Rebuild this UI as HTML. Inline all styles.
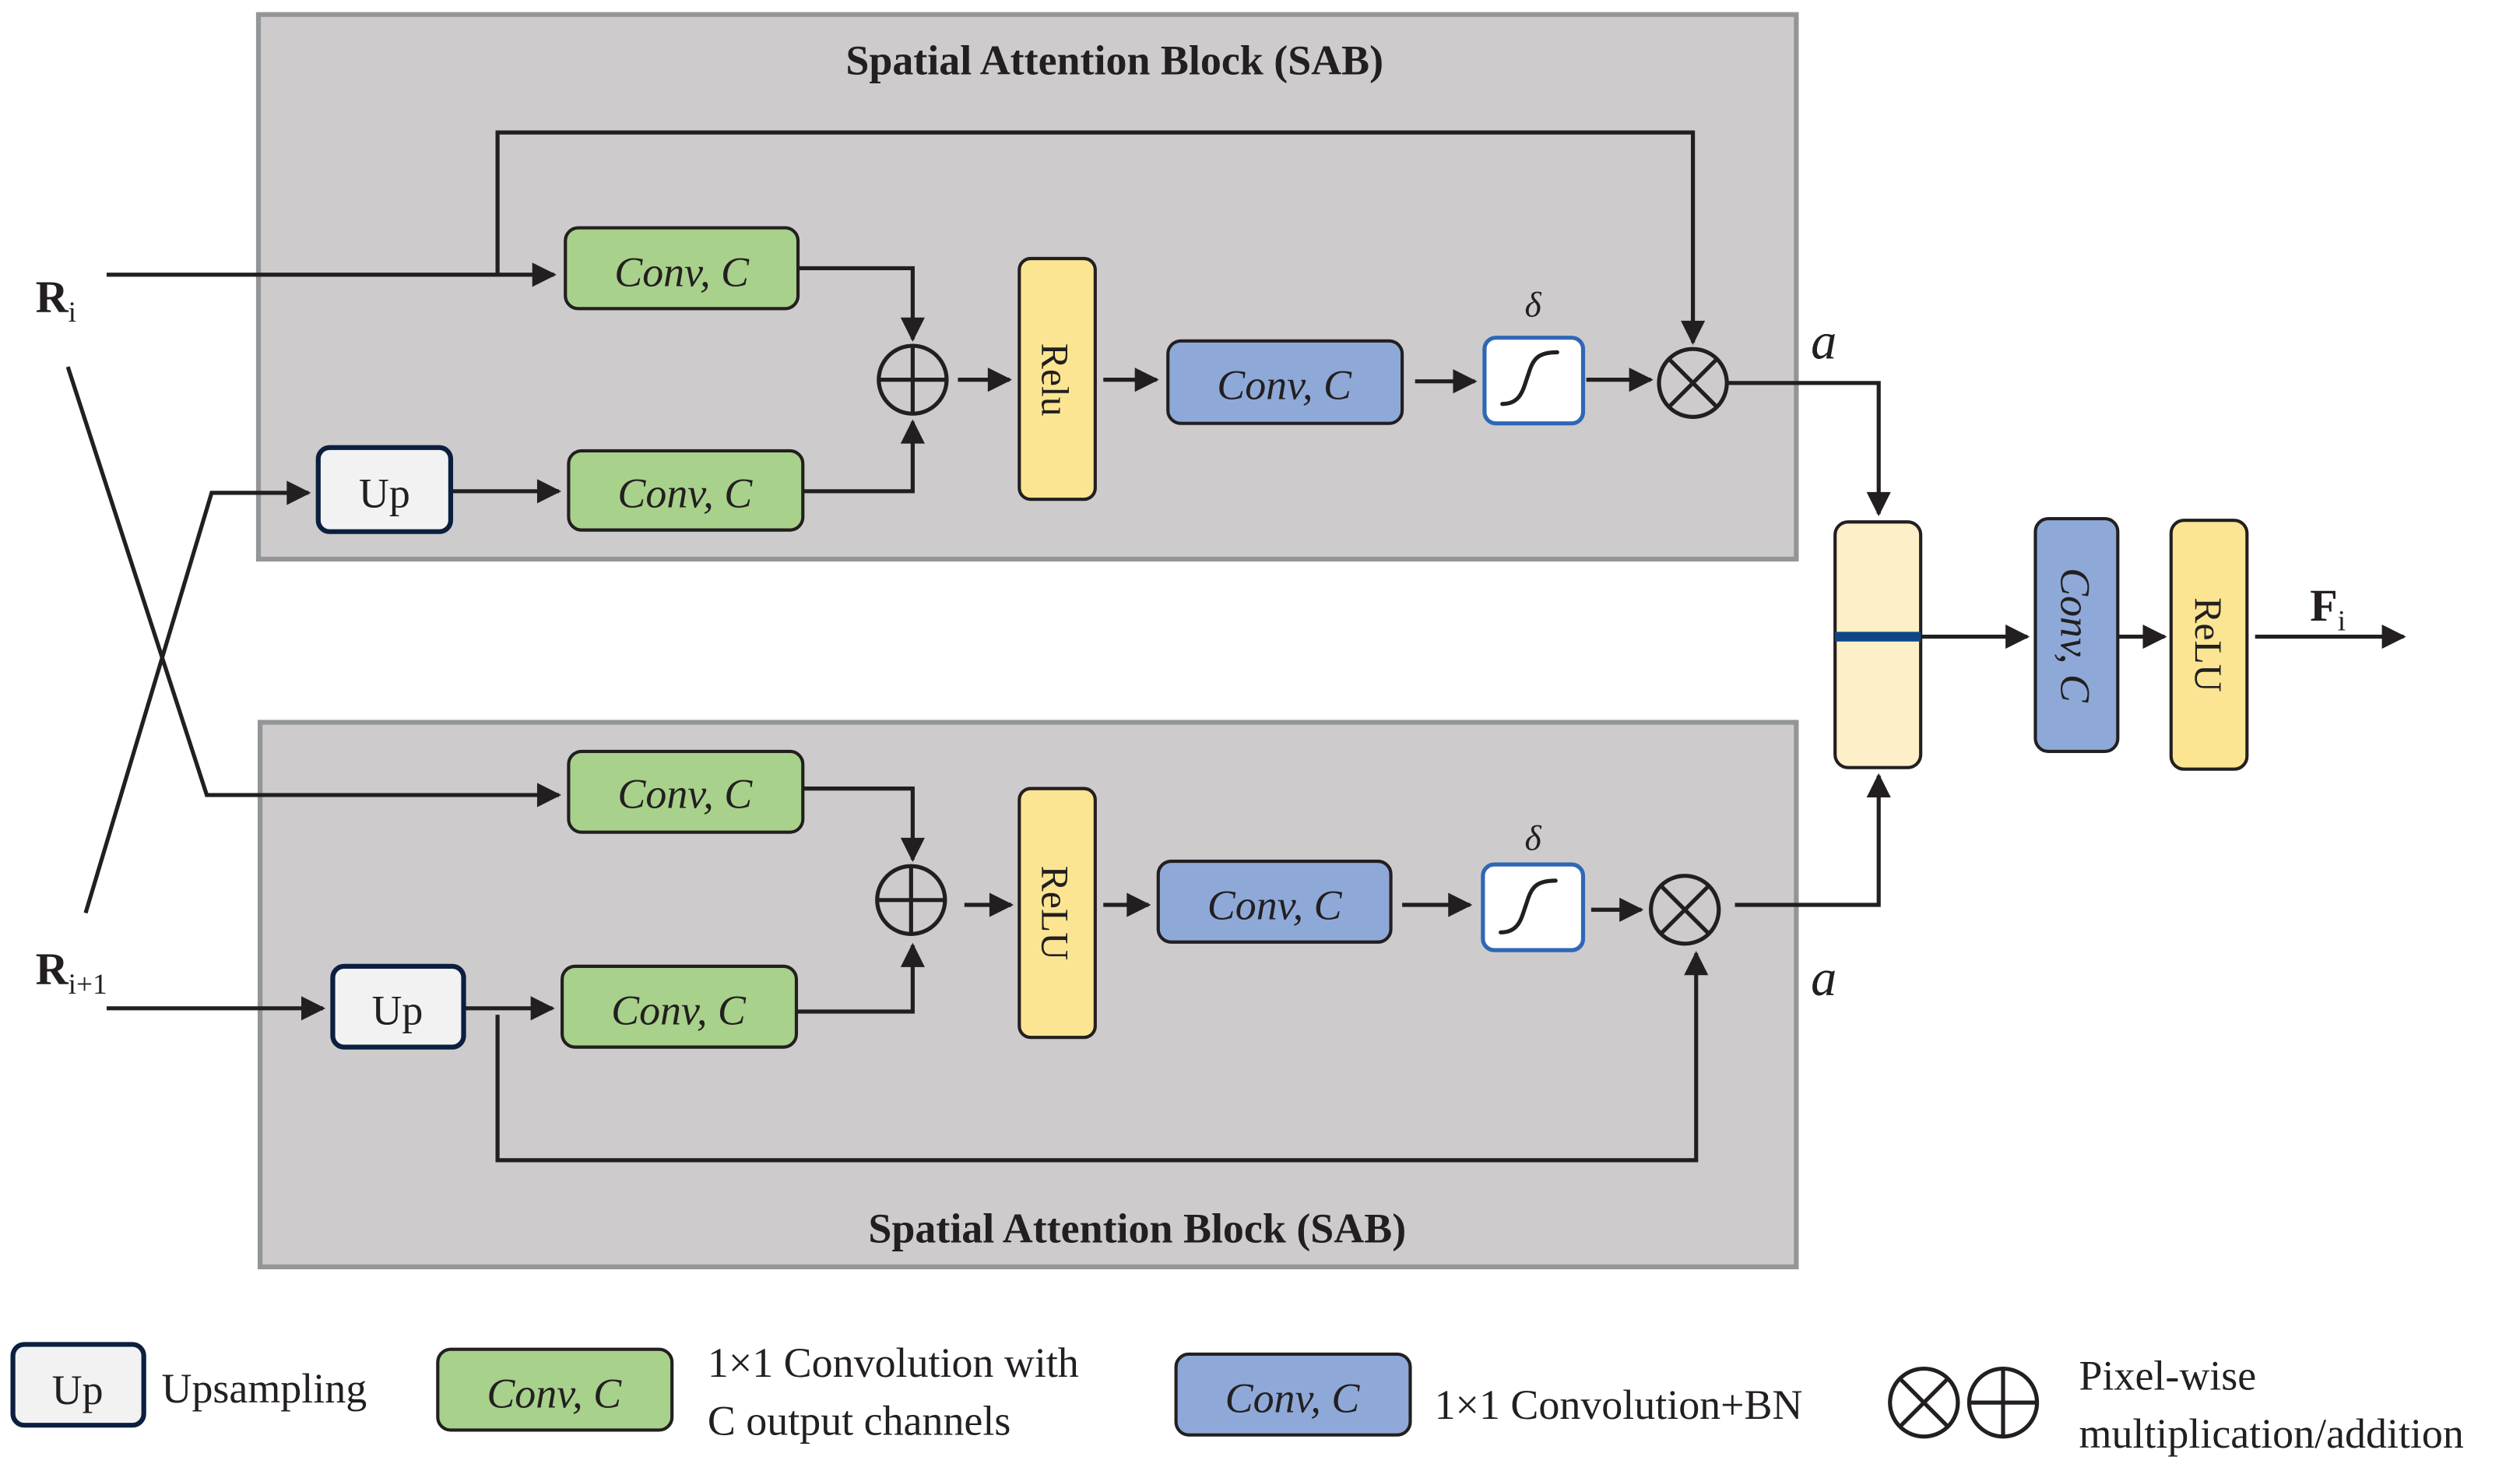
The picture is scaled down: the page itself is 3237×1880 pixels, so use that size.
<!DOCTYPE html>
<html><head><meta charset="utf-8"><style>html,body{margin:0;padding:0;background:#fff}svg{display:block}</style></head>
<body>
<svg width="3237" height="1880" viewBox="0 0 1560 906" preserveAspectRatio="none" xmlns="http://www.w3.org/2000/svg" font-family="'Liberation Serif', serif">
<defs>
<marker id="ah" viewBox="0 0 10 10" refX="9" refY="5" markerWidth="6.5" markerHeight="6" orient="auto" markerUnits="strokeWidth"><path d="M0,0 L10,5 L0,10 z" fill="#231f20"/></marker>
</defs>
<g stroke-linejoin="miter">
<rect x="160" y="9" width="952" height="337" fill="#cdcbcc" stroke="#939598" stroke-width="3"/>
<rect x="161" y="447" width="951" height="337" fill="#cdcbcc" stroke="#939598" stroke-width="3"/>
</g>
<text x="690" y="46" font-size="26" font-weight="bold" text-anchor="middle" fill="#231f20">Spatial Attention Block (SAB)</text>
<text x="704" y="769" font-size="26" font-weight="bold" text-anchor="middle" fill="#231f20">Spatial Attention Block (SAB)</text>

<g fill="none" stroke="#231f20" stroke-width="2.5">
<path d="M66,170 H343" marker-end="url(#ah)"/>
<path d="M308,170 V82 H1048 V212" marker-end="url(#ah)"/>
<path d="M494,166 H565 V210" marker-end="url(#ah)"/>
<path d="M497,304 H565 V261" marker-end="url(#ah)"/>
<path d="M279,304 H346" marker-end="url(#ah)"/>
<path d="M593,235 H625" marker-end="url(#ah)"/>
<path d="M683,235 H716" marker-end="url(#ah)"/>
<path d="M876,236 H913" marker-end="url(#ah)"/>
<path d="M982,235 H1022" marker-end="url(#ah)"/>
<path d="M1070,237 H1163 V318" marker-end="url(#ah)"/>
<path d="M42,227 L128,492 H346" marker-end="url(#ah)"/>
<path d="M53,565 L131,305 H191" marker-end="url(#ah)"/>
<path d="M66,624 H200" marker-end="url(#ah)"/>
<path d="M287,624 H342" marker-end="url(#ah)"/>
<path d="M308,628 V718 H1050 V590" marker-end="url(#ah)"/>
<path d="M497,488 H565 V532" marker-end="url(#ah)"/>
<path d="M493,626 H565 V585" marker-end="url(#ah)"/>
<path d="M597,560 H626" marker-end="url(#ah)"/>
<path d="M683,560 H711" marker-end="url(#ah)"/>
<path d="M868,560 H910" marker-end="url(#ah)"/>
<path d="M985,563 H1016" marker-end="url(#ah)"/>
<path d="M1074,560 H1163 V480" marker-end="url(#ah)"/>
<path d="M1189,394 H1255" marker-end="url(#ah)"/>
<path d="M1311,394 H1340" marker-end="url(#ah)"/>
<path d="M1396,394 H1488" marker-end="url(#ah)"/>
</g>

<g stroke="#231f20" stroke-width="2">
<rect x="350" y="141" width="144" height="50" rx="8" fill="#a8d18b"/>
<rect x="352" y="279" width="145" height="49" rx="8" fill="#a8d18b"/>
<rect x="352" y="465" width="145" height="50" rx="8" fill="#a8d18b"/>
<rect x="348" y="598" width="145" height="50" rx="8" fill="#a8d18b"/>
<rect x="631" y="160" width="47" height="149" rx="7" fill="#fbe592"/>
<rect x="631" y="488" width="47" height="154" rx="7" fill="#fbe592"/>
<rect x="723" y="211" width="145" height="51" rx="8" fill="#8ea9d8"/>
<rect x="717" y="533" width="144" height="50" rx="8" fill="#8ea9d8"/>
<rect x="1136" y="323" width="53" height="152" rx="8" fill="#fdf0c8"/>
<rect x="1260" y="321" width="51" height="144" rx="8" fill="#8ea9d8"/>
<rect x="1344" y="322" width="47" height="154" rx="8" fill="#fbe592"/>
<rect x="271" y="835" width="145" height="50" rx="8" fill="#a8d18b"/>
<rect x="728" y="838" width="145" height="50" rx="8" fill="#8ea9d8"/>
</g>
<rect x="1136" y="391" width="53" height="6" fill="#0f4786"/>
<g stroke="#0b1f3f" stroke-width="3" fill="#f2f2f2">
<rect x="197" y="277" width="82" height="52" rx="7"/>
<rect x="206" y="598" width="81" height="50" rx="7"/>
<rect x="8" y="832" width="81" height="50" rx="7"/>
</g>
<g stroke="#2f67b5" stroke-width="2.5" fill="#fff">
<rect x="919" y="209" width="61" height="53" rx="7"/>
<rect x="918" y="535" width="62" height="53" rx="7"/>
</g>
<g fill="none" stroke="#231f20" stroke-width="2.5" stroke-linecap="round">
<path d="M930,250 C942,250 943,240 946,232 C949,222 952,218 964,218"/>
<path d="M929,577 C941,577 942,567 945,559 C948,549 951,545 963,545"/>
</g>

<g fill="none" stroke="#231f20" stroke-width="2.5">
<circle cx="565" cy="235" r="21"/><path d="M544,235 H586 M565,214 V256"/>
<circle cx="564" cy="557" r="21"/><path d="M543,557 H585 M564,536 V578"/>
<circle cx="1048" cy="237" r="21"/><path d="M1033,222 L1063,252 M1063,222 L1033,252"/>
<circle cx="1043" cy="563" r="21"/><path d="M1028,548 L1058,578 M1058,548 L1028,578"/>
<circle cx="1191" cy="868" r="21"/><path d="M1176,853 L1206,883 M1206,853 L1176,883"/>
<circle cx="1240" cy="868" r="21"/><path d="M1219,868 H1261 M1240,847 V889"/>
</g>

<g fill="#231f20" font-size="26">
<g font-style="italic" text-anchor="middle">
<text x="422" y="177">Conv, C</text>
<text x="424" y="314">Conv, C</text>
<text x="424" y="500">Conv, C</text>
<text x="420" y="634">Conv, C</text>
<text x="795" y="247">Conv, C</text>
<text x="789" y="569">Conv, C</text>
<text x="343" y="871">Conv, C</text>
<text x="800" y="874">Conv, C</text>
<text x="949" y="196" font-size="22">δ</text>
<text x="949" y="526" font-size="22">δ</text>
<text x="1129" y="222" font-size="32">a</text>
<text x="1129" y="616" font-size="32">a</text>
<text transform="translate(1276,393) rotate(90)" font-size="26">Conv, C</text>
</g>
<g text-anchor="middle">
<text x="238" y="314">Up</text>
<text x="246" y="634">Up</text>
<text x="48" y="869">Up</text>
<text transform="translate(645,235) rotate(90)" font-size="24">Relu</text>
<text transform="translate(645,565) rotate(90)" font-size="24">ReLU</text>
<text transform="translate(1359,399) rotate(90)" font-size="24">ReLU</text>
</g>
<text x="22" y="193" font-size="28" font-weight="bold">R<tspan font-size="18" font-weight="normal" dy="6">i</tspan></text>
<text x="22" y="609" font-size="28" font-weight="bold">R<tspan font-size="18" font-weight="normal" dy="6">i+1</tspan></text>
<text x="1430" y="384" font-size="28" font-weight="bold">F<tspan font-size="18" font-weight="normal" dy="6">i</tspan></text>
<text x="100" y="868">Upsampling</text>
<text x="438" y="852">1×1 Convolution with</text>
<text x="438" y="888">C output channels</text>
<text x="888" y="878">1×1 Convolution+BN</text>
<text x="1287" y="860">Pixel-wise</text>
<text x="1287" y="896">multiplication/addition</text>
</g>
</svg>
</body></html>
